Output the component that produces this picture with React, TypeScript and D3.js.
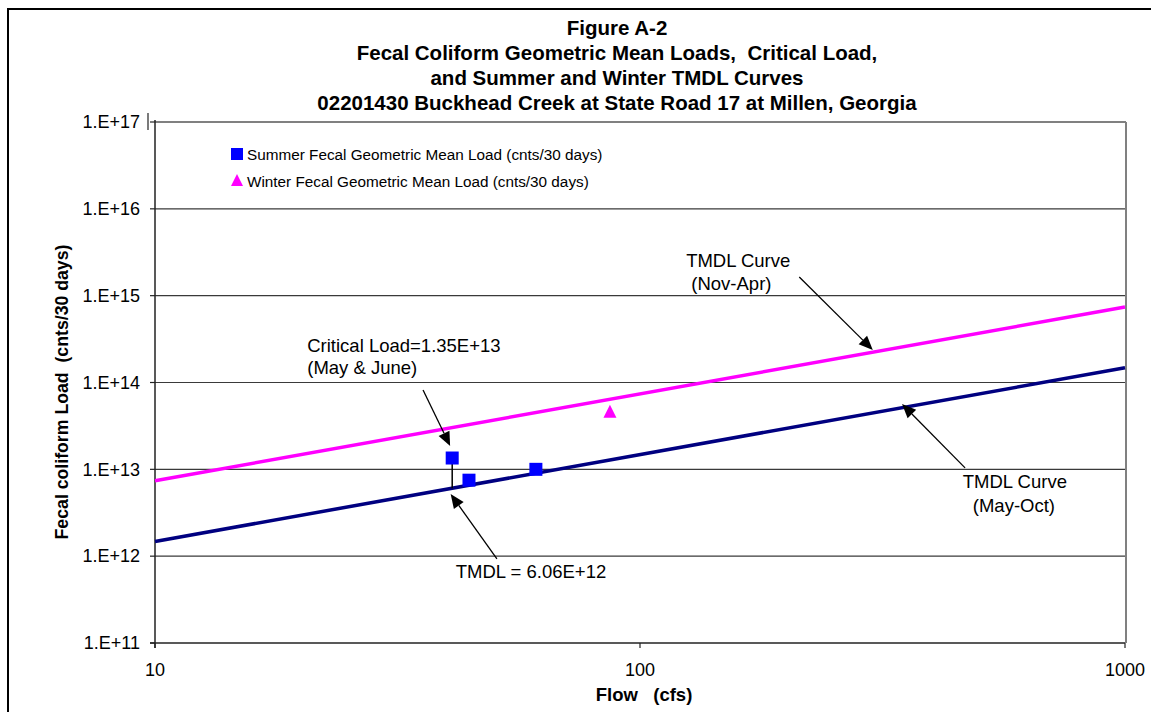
import React from 'react';
import * as d3 from 'd3';

const titleLines = [
  'Figure A-2',
  'Fecal Coliform Geometric Mean Loads,  Critical Load,',
  'and Summer and Winter TMDL Curves',
  '02201430 Buckhead Creek at State Road 17 at Millen, Georgia',
];

const yTicks = [1e11, 1e12, 1e13, 1e14, 1e15, 1e16, 1e17];
const yTickLabels = ['1.E+11', '1.E+12', '1.E+13', '1.E+14', '1.E+15', '1.E+16', '1.E+17'];
const xTicks = [10, 100, 1000];
const xTickLabels = ['10', '100', '1000'];

// summer / winter geometric mean loads
const summerFlow = [41, 44.4, 61];
const summerLoad = [1.35e13, 7.5e12, 1.0e13];
const winterFlow = [86.7];
const winterLoad = [4.6e13];

// TMDL curves
const curveFlow = [10, 1000];
const summerTmdl = [1.478e12, 1.478e14];
const winterTmdl = [7.39e12, 7.39e14];

const criticalFlow = 41;
const criticalLoad = 1.35e13;
const tmdlValue = 6.06e12;

const W = 1151;
const H = 712;
const plot = { left: 155, right: 1125, top: 122, bottom: 643 };

const FONT = '"Liberation Sans", Arial, sans-serif';

function Arrow({ x1, y1, x2, y2 }: { x1: number; y1: number; x2: number; y2: number }) {
  const ang = Math.atan2(y2 - y1, x2 - x1);
  const len = 14;
  const half = 6;
  const bx = x2 - len * Math.cos(ang);
  const by = y2 - len * Math.sin(ang);
  const px = -Math.sin(ang) * half;
  const py = Math.cos(ang) * half;
  return (
    <g>
      <line x1={x1} y1={y1} x2={bx} y2={by} stroke="#000" strokeWidth={1.3} />
      <path d={`M${x2},${y2}L${bx + px},${by + py}L${bx - px},${by - py}Z`} fill="#000" />
    </g>
  );
}

export default function App() {
  const x = d3.scaleLog().domain([10, 1000]).range([plot.left, plot.right]);
  const y = d3.scaleLog().domain([1e11, 1e17]).range([plot.bottom, plot.top]);

  const line = d3
    .line<number>()
    .x((_, i) => x(curveFlow[i]))
    .y((d) => d);

  const summerPath = line(summerTmdl.map((v) => y(v)));
  const winterPath = line(winterTmdl.map((v) => y(v)));

  const annoStyle = { fontFamily: FONT, fontSize: 18.5, fill: '#000' };

  return (
    <svg
      width={W}
      height={H}
      style={{ position: 'absolute', left: 0, top: 0, background: '#fff' }}
    >
      <rect x={8} y={9} width={W + 20} height={H + 20} fill="#fff" stroke="#000" strokeWidth={2} />

      {/* title */}
      {titleLines.map((t, i) => (
        <text
          key={i}
          x={617}
          y={35 + i * 25}
          textAnchor="middle"
          style={{ fontFamily: FONT, fontSize: 20.5, fontWeight: 'bold', whiteSpace: 'pre' }}
        >
          {t}
        </text>
      ))}

      {/* gridlines */}
      {yTicks.slice(1, -1).map((t) => (
        <line key={t} x1={plot.left} x2={plot.right} y1={y(t)} y2={y(t)} stroke="#3a3a3a" strokeWidth={1.2} />
      ))}
      {/* plot border top/right */}
      <line x1={plot.left} x2={plot.right + 1} y1={plot.top} y2={plot.top} stroke="#808080" strokeWidth={2} />
      <line x1={plot.right + 1} x2={plot.right + 1} y1={plot.top} y2={plot.bottom} stroke="#808080" strokeWidth={2} />

      {/* axes */}
      <line x1={plot.left} x2={plot.left} y1={plot.top - 2} y2={plot.bottom + 5} stroke="#222" strokeWidth={1.5} />
      <line x1={plot.left - 5} x2={plot.right} y1={plot.bottom} y2={plot.bottom} stroke="#222" strokeWidth={1.5} />
      <line x1={148} x2={148} y1={113} y2={130} stroke="#222" strokeWidth={1.2} />
      {yTicks.map((t, i) => (
        <g key={t}>
          <line x1={plot.left - 5} x2={plot.left} y1={y(t)} y2={y(t)} stroke="#222" strokeWidth={1.2} />
          <text
            x={140}
            y={y(t)}
            dy="0.35em"
            textAnchor="end"
            style={{ fontFamily: FONT, fontSize: 18 }}
          >
            {yTickLabels[i]}
          </text>
        </g>
      ))}
      {xTicks.map((t, i) => (
        <g key={t}>
          <line x1={x(t)} x2={x(t)} y1={plot.bottom} y2={plot.bottom + 5} stroke="#222" strokeWidth={1.2} />
          <text x={x(t)} y={676} textAnchor="middle" style={{ fontFamily: FONT, fontSize: 18 }}>
            {xTickLabels[i]}
          </text>
        </g>
      ))}

      {/* axis titles */}
      <text
        x={644}
        y={701}
        textAnchor="middle"
        style={{ fontFamily: FONT, fontSize: 18.5, fontWeight: 'bold', whiteSpace: 'pre' }}
      >
        {'Flow   (cfs)'}
      </text>
      <text
        transform={`translate(68,392) rotate(-90)`}
        textAnchor="middle"
        style={{ fontFamily: FONT, fontSize: 17.7, fontWeight: 'bold', whiteSpace: 'pre' }}
      >
        {'Fecal coliform Load  (cnts/30 days)'}
      </text>

      {/* TMDL curves */}
      <path d={winterPath ?? ''} fill="none" stroke="#FF00FF" strokeWidth={3.5} />
      <path d={summerPath ?? ''} fill="none" stroke="#000080" strokeWidth={3.5} />

      {/* critical load drop line */}
      <line
        x1={x(criticalFlow)}
        x2={x(criticalFlow)}
        y1={y(criticalLoad)}
        y2={y(tmdlValue)}
        stroke="#000"
        strokeWidth={1.5}
      />

      {/* points */}
      {summerFlow.map((f, i) => (
        <rect key={i} x={x(f) - 6.5} y={y(summerLoad[i]) - 6.5} width={13} height={13} fill="#0000FF" />
      ))}
      {winterFlow.map((f, i) => {
        const cx = x(f);
        const cy = y(winterLoad[i]);
        return <path key={i} d={`M${cx},${cy - 7}L${cx + 6.5},${cy + 6}L${cx - 6.5},${cy + 6}Z`} fill="#FF00FF" />;
      })}

      {/* legend */}
      <rect x={231} y={148} width={12} height={12} fill="#0000FF" />
      <text x={247} y={160} style={{ fontFamily: FONT, fontSize: 15.3 }}>
        Summer Fecal Geometric Mean Load (cnts/30 days)
      </text>
      <path d="M237,174L243,186L231,186Z" fill="#FF00FF" />
      <text x={247} y={187} style={{ fontFamily: FONT, fontSize: 15.3 }}>
        Winter Fecal Geometric Mean Load (cnts/30 days)
      </text>

      {/* annotations */}
      <text x={x(20.6)} y={y(2.24e14)} style={annoStyle}>
        <tspan x={x(20.6)}>Critical Load=1.35E+13</tspan>
        <tspan x={x(20.6)} dy={22}>(May &amp; June)</tspan>
      </text>
      <Arrow x1={x(35.7)} y1={y(8.2e13)} x2={x(40.6)} y2={y(1.86e13)} />

      <text x={x(41.7)} y={y(5.6e11)} style={annoStyle}>
        TMDL = 6.06E+12
      </text>
      <Arrow x1={x(50.7)} y1={y(9.3e11)} x2={x(40.7)} y2={y(5.2e12)} />

      <text x={x(124.5)} y={y(2.14e15)} style={{ ...annoStyle, whiteSpace: 'pre' }}>
        <tspan x={x(124.5)}>TMDL Curve</tspan>
        <tspan x={x(124.5)} dy={23}>{' (Nov-Apr)'}</tspan>
      </text>
      <Arrow x1={x(213)} y1={y(1.64e15)} x2={x(302)} y2={y(2.37e14)} />

      <text x={x(463)} y={y(6.1e12)} style={annoStyle}>
        <tspan x={x(463)}>TMDL Curve</tspan>
        <tspan x={x(463) + 10} dy={24}>(May-Oct)</tspan>
      </text>
      <Arrow x1={x(468)} y1={y(1.04e13)} x2={x(347)} y2={y(5.65e13)} />
    </svg>
  );
}
